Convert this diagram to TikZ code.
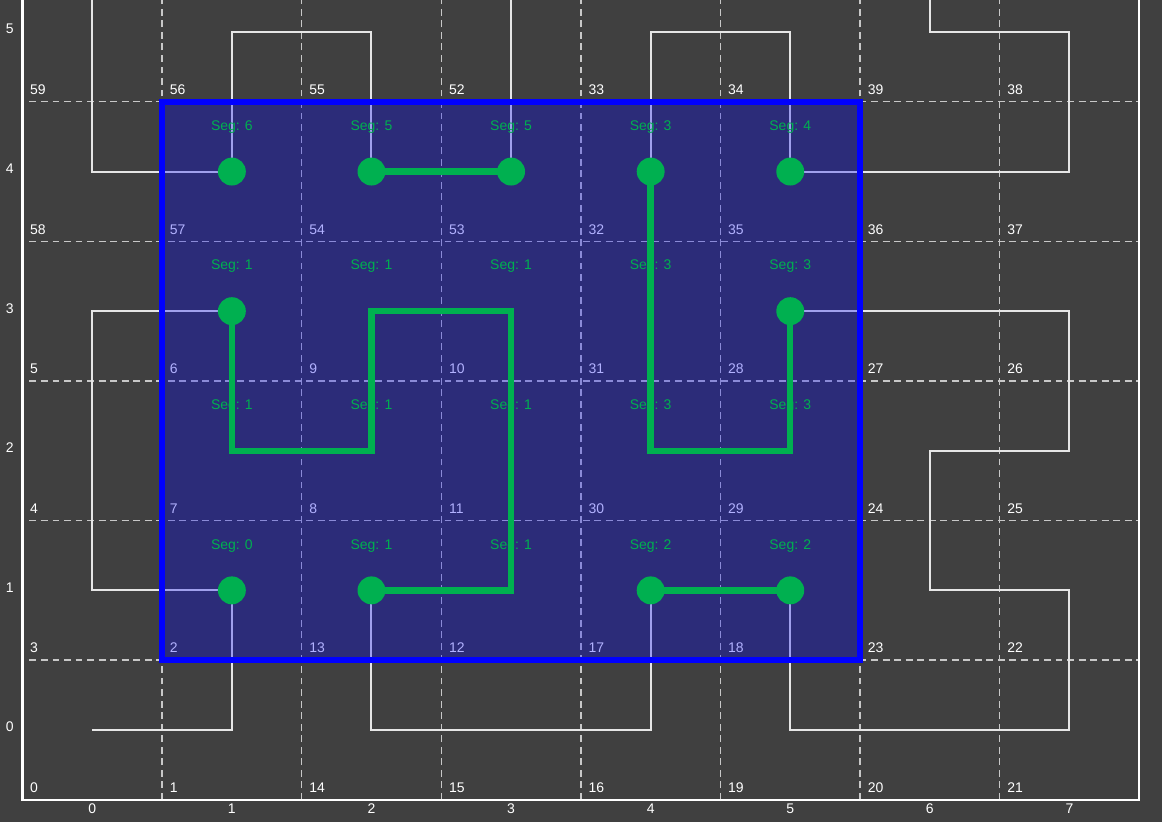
\documentclass[tikz,border=0pt]{standalone}
\usepackage{fontspec}
\setmainfont{Liberation Sans}
\usepackage{xcolor}
\definecolor{bg}{HTML}{404040}
\definecolor{grn}{HTML}{00B050}
\definecolor{gridc}{HTML}{C8C8C8}
\definecolor{lne}{HTML}{E6E6E6}
\usepackage{tikz}
\tikzset{
  hilb/.style={draw=lne,line width=0.8pt},
  gridln/.style={draw=gridc,line width=0.55pt,dash pattern=on 2.8pt off 1.9pt},
  axisln/.style={draw=white,line width=0.9pt},
  sel/.style={draw=blue,line width=2.65pt,fill=blue,fill opacity=0.3},
  segln/.style={draw=grn,line width=2.6pt},
  segdot/.style={fill=grn},
  cnum/.style={font=\fontsize{5.7}{6}\selectfont,text=white,inner sep=0pt,anchor=south west},
  ticklab/.style={font=\fontsize{5.7}{6}\selectfont,text=white,inner sep=0pt},
  seglab/.style={font=\fontsize{5.7}{6}\selectfont,text=grn,inner sep=0pt,anchor=base},
}

\begin{document}
\begin{tikzpicture}[x=2cm,y=2cm]
\fill[bg] (-0.661,-0.659) rectangle (7.663,5.229);
\useasboundingbox (-0.661,-0.659) rectangle (7.663,5.229);
\begin{scope}
\clip (-0.5,-0.5) rectangle (7.5,5.229);
% grid
\foreach \x in {0.5,1.5,...,6.5} \draw[gridln] (\x,-0.5) -- (\x,5.3);
\foreach \y in {0.5,1.5,...,4.5} \draw[gridln] (-0.45,\y) -- (7.5,\y);
% curve through the cells
\draw[hilb] (0,0) -- (1,0) -- (1,1) -- (0,1) -- (0,3) -- (1,3) -- (1,2) -- (2,2) -- (2,3) -- (3,3)
  -- (3,1) -- (2,1) -- (2,0) -- (4,0) -- (4,1) -- (5,1) -- (5,0) -- (7,0) -- (7,1) -- (6,1)
  -- (6,2) -- (7,2) -- (7,3) -- (5,3) -- (5,2) -- (4,2) -- (4,5) -- (5,5) -- (5,4) -- (7,4)
  -- (7,5) -- (6,5) -- (6,6);
\draw[hilb] (3,6) -- (3,4) -- (2,4) -- (2,5) -- (1,5) -- (1,4) -- (0,4) -- (0,6);
\end{scope}
% corner numbers
\foreach \yy/\lst in {-0.5/{0,1,14,15,16,19,20,21},0.5/{3,2,13,12,17,18,23,22},
    1.5/{4,7,8,11,30,29,24,25},2.5/{5,6,9,10,31,28,27,26},
    3.5/{58,57,54,53,32,35,36,37},4.5/{59,56,55,52,33,34,39,38}}
  \foreach \n [count=\i from 0] in \lst
    \node[cnum] (c\n) at (\i-0.448,\yy+0.048) {\n};
% axes
\draw[axisln] (-0.5,5.229) -- (-0.5,-0.5) -- (7.5,-0.5) -- (7.5,5.229);
\foreach \x in {0,...,7} \node[ticklab,anchor=base] (tx\x) at (\x,-0.595) {\x};
\foreach \y in {0,...,5} \node[ticklab,anchor=east] (ty\y) at (-0.56,\y+0.02) {\y};
% selected block
\path[sel] (0.5,0.5) rectangle (5.5,4.5);
% segments
\draw[segln] (1,3) -- (1,2) -- (2,2) -- (2,3) -- (3,3) -- (3,1) -- (2,1);
\draw[segln] (4,4) -- (4,2) -- (5,2) -- (5,3);
\draw[segln] (2,4) -- (3,4);
\draw[segln] (4,1) -- (5,1);
\foreach \p in {(1,1),(2,1),(4,1),(5,1),(1,3),(5,3),(1,4),(2,4),(3,4),(4,4),(5,4)}
  \fill[segdot] \p circle (0.1);
\foreach \y/\lst in {4/{6,5,5,3,4},3/{1,1,1,3,3},2/{1,1,1,3,3},1/{0,1,1,2,2}}
  \foreach \s [count=\x] in \lst
    \node[seglab] (s\x\y) at (\x,\y+0.295) {Seg: \s};
\end{tikzpicture}
\end{document}
